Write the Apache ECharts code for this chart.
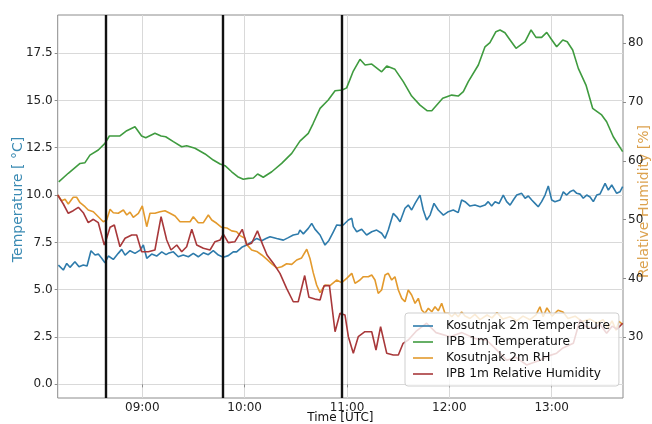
<!DOCTYPE html>
<html>
<head>
<meta charset="utf-8">
<script src="https://cdn.jsdelivr.net/npm/echarts@6/dist/echarts.min.js"></script>
<style>
html,body{margin:0;padding:0;background:#fff;}
#chart{width:652px;height:424px;}
</style>
</head>
<body>
<div id="chart"></div>
<script>
// Times are minutes since 00:00 UTC
const xTicks = [540, 600, 660, 720, 780];
const tempTicks = [0, 2.5, 5, 7.5, 10, 12.5, 15, 17.5];
const rhTicks = [30, 40, 50, 60, 70, 80];
const eventTimes = [518.8, 587.1, 657.1];
const seriesNames = ['Kosutnjak 2m Temperature', 'IPB 1m Temperature', 'Kosutnjak 2m RH', 'IPB 1m Relative Humidity'];

const kosTempTimes = [490.8,493.7,495.7,497.6,500.5,502.9,505.4,507.6,509.9,512.3,514.2,516.2,518.1,520.1,523.0,525.9,527.9,529.9,532.8,535.7,538.7,540.6,542.6,545.5,548.4,551.4,553.9,555.2,558.2,561.1,564.0,567.0,569.9,572.8,575.8,578.7,581.6,584.6,587.5,590.4,593.3,595.3,598.3,601.2,604.1,607.1,610.0,612.5,614.9,618.8,622.7,625.6,628.5,631.4,632.4,634.4,637.3,639.3,641.2,644.2,647.1,649.4,652.0,654.0,655.9,657.8,660.8,662.8,663.7,665.7,668.6,671.5,674.5,677.4,680.3,682.3,684.2,687.1,689.1,691.1,694.0,695.9,697.9,699.9,702.8,704.7,706.7,708.7,711.0,713.5,716.5,719.4,722.3,725.2,727.2,729.2,732.1,735.0,738.0,740.9,742.8,744.8,746.8,749.1,751.6,753.6,755.6,757.5,759.5,762.4,764.4,766.3,768.3,770.2,772.1,774.1,776.1,778.0,780.0,781.9,784.9,786.8,788.8,790.7,792.7,794.7,796.6,798.5,800.5,802.5,804.4,806.4,808.3,811.3,813.2,815.2,818.1,820.0,821.6];
const kosTemp = [6.30,6.04,6.39,6.18,6.48,6.21,6.30,6.25,7.06,6.83,6.88,6.66,6.42,6.78,6.60,6.92,7.13,6.83,7.06,6.92,7.09,7.36,6.66,6.88,6.78,7.00,6.85,6.92,7.00,6.74,6.83,6.74,6.92,6.74,6.95,6.85,7.06,6.83,6.72,6.80,7.00,7.00,7.24,7.36,7.53,7.71,7.59,7.70,7.80,7.70,7.62,7.75,7.89,7.94,8.15,7.95,8.24,8.50,8.20,7.89,7.36,7.60,8.06,8.42,8.40,8.42,8.68,8.77,8.33,8.06,8.19,7.89,8.06,8.15,7.98,7.71,8.15,9.03,8.85,8.59,9.30,9.47,9.21,9.56,10.00,9.21,8.68,8.94,9.56,9.21,8.94,9.12,9.21,9.07,9.74,9.65,9.42,9.47,9.38,9.47,9.65,9.42,9.65,9.55,10.00,9.65,9.47,9.74,10.00,10.09,9.83,9.95,9.74,9.56,9.38,9.65,10.00,10.48,9.74,9.65,9.74,10.17,10.00,10.17,10.26,10.09,10.05,9.83,10.00,9.90,9.65,10.00,10.05,10.62,10.26,10.53,10.09,10.17,10.44];

const ipbTempTimes = [491.0,496.6,503.5,506.4,509.3,514.2,518.1,520.7,526.9,530.9,535.7,539.6,542.0,547.4,551.0,553.7,558.2,563.1,566.0,570.9,576.8,581.6,585.6,588.5,592.4,595.9,599.2,602.1,605.1,607.6,610.9,615.9,621.7,627.6,632.4,637.3,640.2,644.2,649.0,653.0,657.2,659.8,663.7,667.6,670.6,674.5,680.3,683.3,688.1,693.0,697.9,702.8,707.1,709.7,716.1,721.4,725.2,728.2,731.1,737.0,740.9,743.8,747.3,749.7,752.6,755.6,759.1,764.4,767.9,770.8,774.1,777.1,779.4,782.9,786.5,789.1,792.3,795.6,800.1,804.0,809.3,812.2,816.1,821.6];
const ipbTemp = [10.70,11.15,11.67,11.71,12.11,12.38,12.73,13.12,13.12,13.40,13.61,13.12,13.03,13.26,13.12,13.08,12.82,12.55,12.60,12.47,12.17,11.85,11.64,11.55,11.23,10.97,10.83,10.88,10.90,11.11,10.94,11.23,11.67,12.20,12.85,13.26,13.79,14.58,15.02,15.51,15.55,15.66,16.55,17.17,16.87,16.92,16.51,16.81,16.64,15.99,15.23,14.75,14.45,14.45,15.11,15.28,15.23,15.46,15.99,16.87,17.83,18.05,18.63,18.72,18.57,18.19,17.75,18.10,18.72,18.33,18.33,18.59,18.28,17.83,18.19,18.10,17.66,16.69,15.81,14.58,14.23,13.87,13.08,12.29];

const kosRHTimes = [490.4,492.7,494.7,496.6,499.5,501.5,503.5,506.4,508.3,511.3,514.2,517.1,519.1,521.1,523.0,525.9,528.9,530.9,532.8,534.7,537.7,540.0,542.6,544.5,547.4,550.4,553.3,556.2,559.2,562.1,565.0,568.0,569.9,572.8,575.8,578.7,580.7,583.6,586.5,589.5,592.4,595.3,597.3,600.2,601.2,604.1,607.1,610.0,612.9,615.9,618.8,621.7,624.6,627.6,630.5,633.4,636.4,638.3,640.2,642.2,644.2,647.1,650.0,653.9,656.9,659.8,662.8,664.7,667.6,669.6,672.5,674.5,676.4,678.3,680.3,682.3,684.2,686.2,688.1,690.1,692.1,694.0,695.9,697.9,699.9,701.8,703.8,705.7,707.7,709.7,711.6,713.5,715.5,717.4,719.4,721.4,723.3,725.2,727.2,729.2,732.1,735.0,738.0,742.1,745.0,747.9,751.4,755.6,759.5,763.2,767.3,770.8,773.1,775.0,777.2,780.2,783.7,786.6,789.6,793.7,797.8,802.5,806.6,810.1,813.0,815.4,817.7,819.4,821.6];
const kosRH = [54.20,53.23,53.47,52.67,53.81,53.81,52.89,52.21,51.65,51.36,50.51,49.66,49.95,51.77,51.19,51.09,51.65,50.80,51.30,50.41,51.09,52.33,48.81,51.09,51.09,51.36,51.53,51.10,50.63,49.66,49.66,49.66,50.51,49.49,49.50,50.80,49.95,49.39,48.71,48.60,48.10,47.96,47.30,46.84,45.80,44.85,44.60,44.00,43.30,42.50,41.80,42.01,42.50,42.40,43.15,43.50,44.97,43.40,41.00,38.90,37.60,38.89,38.80,39.74,39.30,40.03,40.88,39.18,39.74,40.31,40.31,40.60,39.74,37.48,38.04,40.60,40.88,39.74,40.31,38.04,36.63,36.05,38.04,37.19,35.78,36.63,34.64,34.08,34.93,34.35,35.20,34.50,35.78,34.08,34.10,33.50,34.08,33.50,34.30,33.62,33.20,33.90,33.00,33.80,33.30,34.20,33.10,33.50,32.80,33.60,33.00,33.80,35.20,33.50,35.00,33.60,34.60,34.30,33.20,33.60,32.70,33.10,32.40,33.00,31.60,32.80,31.20,32.70,32.20];

const ipbRHTimes = [490.4,493.7,496.6,499.5,502.5,505.4,508.3,511.3,514.2,517.7,519.1,521.1,523.6,526.9,529.9,533.8,536.7,539.6,543.5,547.4,551.0,554.3,556.8,560.2,563.1,566.0,569.0,571.9,575.8,579.7,582.6,585.6,587.5,590.4,594.3,598.6,601.2,604.1,607.5,610.5,613.1,616.8,620.7,624.6,628.5,631.4,635.2,637.7,641.2,644.2,646.5,649.7,653.0,655.9,658.8,660.8,663.7,666.6,670.5,674.5,677.0,679.7,683.3,687.1,690.1,692.9,695.9,700.4,706.7,712.2,720.4,727.4,735.0,741.9,747.3,753.6,759.1,765.3,773.1,777.8,782.9,786.6,792.7,796.6,800.1,804.4,808.3,812.2,815.4,818.3,821.6];
const ipbRH = [54.20,52.67,51.09,51.53,52.11,51.19,49.49,50.07,49.49,45.70,46.84,48.71,49.10,45.41,46.84,47.40,47.40,44.56,44.56,44.85,50.51,46.55,44.85,45.70,44.56,45.41,48.37,45.70,45.14,44.85,46.26,46.55,47.55,46.10,46.26,48.37,45.70,45.99,48.10,45.80,44.00,42.59,40.88,38.33,36.05,36.05,40.50,36.80,36.50,36.34,38.75,38.80,30.95,34.08,33.80,30.10,27.28,30.10,30.95,30.95,27.84,31.80,27.28,26.99,26.99,28.98,29.54,31.00,32.40,30.80,30.10,30.80,29.80,29.50,28.00,26.10,26.60,25.30,26.10,26.80,27.30,28.20,29.00,33.00,31.80,31.50,32.20,30.70,31.90,31.40,32.40];

const colors = ['#2e7bab', '#3f9b3f', '#e39a2d', '#a8383a'];
const FONT = 'DejaVu Sans';

function pairs(t, v) { return t.map((x, i) => [x, v[i]]); }
function hhmm(v) {
  const h = Math.floor(v / 60), m = Math.round(v - h * 60);
  return String(h).padStart(2, '0') + ':' + String(m).padStart(2, '0');
}

const chart = echarts.init(document.getElementById('chart'), null, {renderer: 'canvas'});
const lineSeries = (name, data, yIdx, color, extra) => Object.assign({
  name, type: 'line', data, yAxisIndex: yIdx, symbol: 'none', showSymbol: false,
  lineStyle: {color, width: 1.6}, itemStyle: {color}, animation: false, z: 3
}, extra || {});

chart.setOption({
  animation: false,
  color: colors,
  textStyle: {fontFamily: FONT},
  grid: {left: 57.7, right: 29, top: 15, bottom: 26, show: true, borderColor: '#8c8c8c', borderWidth: 1,
         backgroundColor: 'transparent', containLabel: false, outerBoundsMode: 'none'},
  legend: {
    orient: 'vertical', left: 405, top: 313,
    padding: [7, 9, 6, 8], itemWidth: 20, itemHeight: 14, itemGap: 4,
    icon: 'path://M0,0 L20,0 L20,1.6 L0,1.6 Z',
    backgroundColor: 'rgba(255,255,255,0.8)', borderColor: '#cfcfcf', borderWidth: 1, borderRadius: 3,
    textStyle: {fontFamily: FONT, fontSize: 12.2, color: '#111', padding: [0, 0, 0, 8]},
    data: seriesNames, z: 10
  },
  xAxis: {
    type: 'value', min: 490.4, max: 821.8,
    name: 'Time [UTC]', nameLocation: 'middle', nameGap: 14, nameMoveOverlap: false,
    nameTextStyle: {fontFamily: FONT, fontSize: 12, color: '#111', verticalAlign: 'top'},
    axisLine: {show: false},
    axisTick: {show: true, customValues: xTicks, length: 3, lineStyle: {color: '#8c8c8c'}},
    axisLabel: {customValues: xTicks, formatter: hhmm, fontFamily: FONT, fontSize: 12, color: '#222', margin: 4},
    splitLine: {show: true, lineStyle: {color: '#d9d9d9', width: 1}}
  },
  yAxis: [
    {
      type: 'value', min: -0.72, max: 19.51, position: 'left',
      name: 'Temperature [ \u00b0C]', nameLocation: 'middle', nameGap: 32, nameRotate: 90, nameMoveOverlap: false,
      nameTextStyle: {fontFamily: FONT, fontSize: 14, color: '#3a8ab3', padding: [0, 0, 0, 14]},
      axisLine: {show: false},
      axisTick: {show: true, customValues: tempTicks, length: 3, lineStyle: {color: '#8c8c8c'}},
      axisLabel: {customValues: tempTicks, formatter: v => v.toFixed(1), fontFamily: FONT, fontSize: 12, color: '#222', margin: 5},
      splitLine: {show: true, lineStyle: {color: '#d9d9d9', width: 1}}
    },
    {
      type: 'value', min: 19.68, max: 84.81, position: 'right',
      name: 'Relative Humidity [%]', nameLocation: 'middle', nameGap: 14, nameRotate: 90, nameMoveOverlap: false,
      nameTextStyle: {fontFamily: FONT, fontSize: 14, color: '#dca24f', padding: [0, 0, 0, 10]},
      axisLine: {show: false},
      axisTick: {show: true, customValues: rhTicks, length: 3, lineStyle: {color: '#8c8c8c'}},
      axisLabel: {customValues: rhTicks, fontFamily: FONT, fontSize: 12, color: '#222', margin: 5},
      splitLine: {show: false}
    }
  ],
  series: [
    lineSeries(seriesNames[0], pairs(kosTempTimes, kosTemp), 0, colors[0]),
    lineSeries(seriesNames[1], pairs(ipbTempTimes, ipbTemp), 0, colors[1]),
    lineSeries(seriesNames[2], pairs(kosRHTimes, kosRH), 1, colors[2]),
    lineSeries(seriesNames[3], pairs(ipbRHTimes, ipbRH), 1, colors[3], {
      markLine: {
        silent: true, symbol: ['none', 'none'], animation: false,
        label: {show: false},
        lineStyle: {color: '#111', width: 2.4, type: 'solid'},
        data: eventTimes.map(t => ({xAxis: t}))
      }
    })
  ]
});
</script>
</body>
</html>
